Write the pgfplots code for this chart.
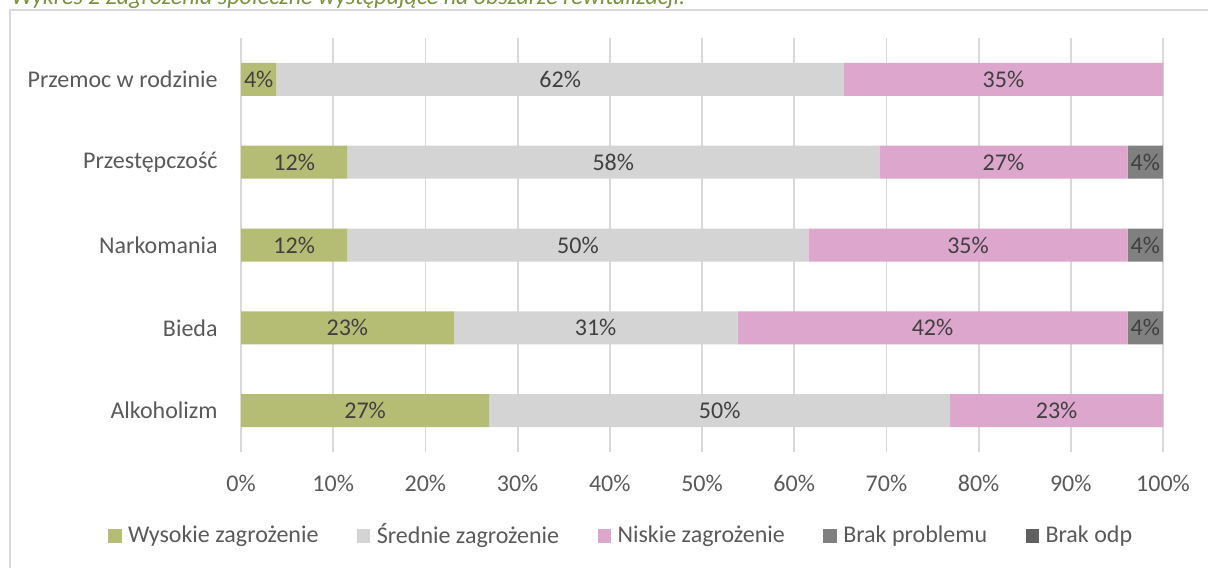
\documentclass[border=0pt]{standalone}
\usepackage{pgfplots}
\pgfplotsset{compat=1.18}
\usepackage{fontspec}
\setmainfont{Carlito}
\definecolor{cWys}{HTML}{B5BD74}
\definecolor{cSre}{HTML}{D4D4D4}
\definecolor{cNis}{HTML}{DCA6CD}
\definecolor{cBrp}{HTML}{808080}
\definecolor{cBro}{HTML}{606060}
\definecolor{cTxt}{HTML}{595959}
\definecolor{cLbl}{HTML}{404040}
\definecolor{cGrid}{HTML}{D9D9D9}
\definecolor{cTitle}{HTML}{77933C}
\newcommand\fs{\fontsize{12}{14.2}\selectfont}
\begin{document}
\begin{tikzpicture}[font=\fs]
\useasboundingbox (0,0) rectangle (604pt,283.5pt);
\clip (0,0) rectangle (604pt,283.5pt);
% title (cut off at top) and frame
\node[anchor=base west, inner sep=0pt, font=\fs\itshape, text=cTitle] at (5.5pt,281.3pt) {Wykres 2 Zagrożenia społeczne występujące na obszarze rewitalizacji.};
\draw[cGrid, line width=0.8pt] (5pt,-10pt) -- (5pt,278.5pt) -- (620pt,278.5pt);
\begin{axis}[
  at={(120.5pt,57.5pt)}, anchor=south west,
  scale only axis, width=461pt, height=207pt,
  xbar stacked, bar width=16.5pt,
  xmin=0, xmax=100, ymin=-0.5, ymax=4.5,
  axis line style={draw=none},
  xtick={0,10,...,100},
  xticklabels={0\%,10\%,20\%,30\%,40\%,50\%,60\%,70\%,80\%,90\%,100\%},
  ytick={0,1,2,3,4},
  yticklabels={Alkoholizm,Bieda,Narkomania,Przestępczość,Przemoc w rodzinie},
  major tick length=0pt,
  xmajorgrids, major grid style={cGrid, line width=0.9pt},
  /pgf/number format/assume math mode=true,
  tick label style={font=\fs, text=cTxt},
  xticklabel style={anchor=center, inner sep=0pt, yshift=-15.5pt},
  yticklabel style={anchor=east, inner sep=0pt, xshift=-11.5pt},
  legend columns=5,
  legend style={at={(-0.1443,-0.2029)}, anchor=west, draw=none, fill=none, inner sep=0pt,
    font=\fs, text=cTxt, /tikz/column sep=0pt,
    /tikz/every odd column/.style={column sep=2pt},
    /tikz/every even column/.style={column sep=18pt},
    /tikz/every node/.style={inner sep=1.3pt}},
  legend image code/.code={\path[#1, draw=none] (0pt,-3.3pt) rectangle (6.6pt,3.3pt);},
  legend cell align=left,
]
\addplot[fill=cWys, draw=none] coordinates {(26.92,0) (23.08,1) (11.54,2) (11.54,3) (3.85,4)};
\addlegendentry{Wysokie zagrożenie}
\addplot[fill=cSre, draw=none] coordinates {(50,0) (30.77,1) (50,2) (57.69,3) (61.54,4)};
\addlegendentry{Średnie zagrożenie}
\addplot[fill=cNis, draw=none] coordinates {(23.08,0) (42.31,1) (34.61,2) (26.92,3) (34.61,4)};
\addlegendentry{Niskie zagrożenie}
\addplot[fill=cBrp, draw=none] coordinates {(0,0) (3.84,1) (3.84,2) (3.84,3) (0,4)};
\addlegendentry{Brak problemu}
\addplot[fill=cBro, draw=none] coordinates {(0,0) (0,1) (0,2) (0,3) (0,4)};
\addlegendentry{Brak odp}
\end{axis}
\begin{axis}[
  at={(120.5pt,57.5pt)}, anchor=south west,
  scale only axis, width=461pt, height=207pt,
  xmin=0, xmax=100, ymin=-0.5, ymax=4.5,
  hide axis,
]
\addplot[only marks, mark size=0pt, draw=none, fill=none,
  nodes near coords, point meta=explicit symbolic,
  nodes near coords align={anchor=center},
  every node near coord/.style={anchor=center, font=\fs, text=cLbl}]
  coordinates {
  (1.92,4) [4\%] (34.62,4) [62\%] (82.69,4) [35\%]
  (5.77,3) [12\%] (40.38,3) [58\%] (82.69,3) [27\%] (98.08,3) [4\%]
  (5.77,2) [12\%] (36.54,2) [50\%] (78.85,2) [35\%] (98.08,2) [4\%]
  (11.54,1) [23\%] (38.46,1) [31\%] (75.00,1) [42\%] (98.08,1) [4\%]
  (13.46,0) [27\%] (51.92,0) [50\%] (88.46,0) [23\%]
  };
\end{axis}
\end{tikzpicture}
\end{document}
